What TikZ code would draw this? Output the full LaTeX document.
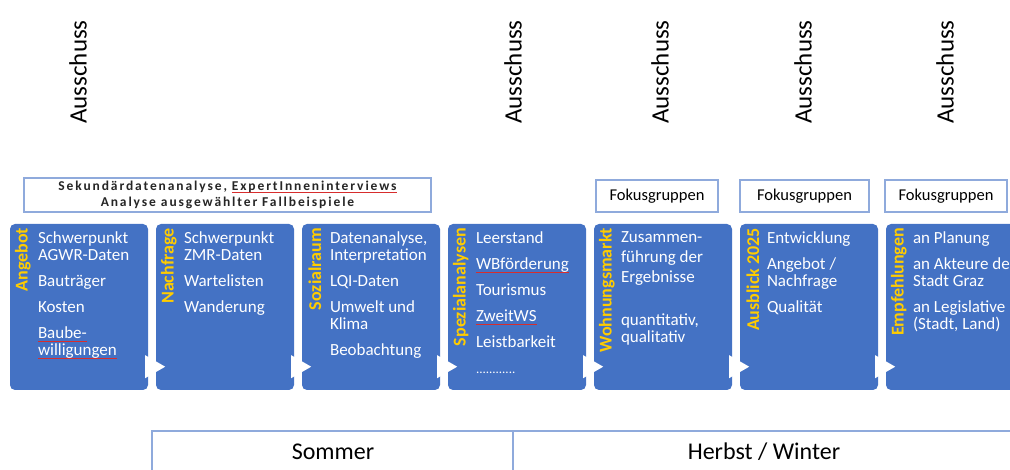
\documentclass[tikz,border=0pt]{standalone}
\usepackage{fontspec}
\setmainfont{Carlito}
\newfontfamily\sperrfont[LetterSpace=14]{Carlito}
\usepackage{tikz}
\usetikzlibrary{positioning}
\definecolor{boxblau}{RGB}{68,114,196}
\definecolor{gelb}{RGB}{255,204,0}
\definecolor{randblau}{RGB}{143,170,220}
\definecolor{fehlerrot}{RGB}{215,45,45}
% rote Unterstreichung (Rechtschreibpruefung)
\newlength\rotbreite
\newcommand\rotlinie[1]{\settowidth\rotbreite{#1}\rlap{\textcolor{fehlerrot}{\rule[-2.5pt]{\rotbreite}{0.8pt}}}#1}

\begin{document}
\begin{tikzpicture}[x=1pt,y=-1pt,node distance=7.6pt,
  phase/.style={fill=boxblau,rounded corners=5pt,minimum width=138pt,minimum height=166pt,inner sep=0pt},
  seite/.style={rotate=90,anchor=east,inner sep=0pt,text=gelb,font=\bfseries\fontsize{18}{18}\selectfont},
  punkte/.style={anchor=north west,align=left,inner sep=0pt,text=white,font=\fontsize{17}{17}\selectfont},
  rahmen/.style={draw=randblau,line width=1.3pt,fill=white,inner sep=0pt},
  ausschuss/.style={rotate=90,inner sep=0pt,font=\fontsize{25}{25}\selectfont}]
  \useasboundingbox (0,0) rectangle (1010,470);

  % Phasen
  \node[phase] (angebot) at (79,307) {};
  \node[phase,right=of angebot] (nachfrage) {};
  \node[phase,right=of nachfrage] (sozialraum) {};
  \node[phase,right=of sozialraum] (spezial) {};
  \node[phase,right=of spezial] (wohnmarkt) {};
  \node[phase,right=of wohnmarkt] (ausblick) {};
  \node[phase,right=of ausblick] (empfehl) {};

  \foreach \b in {angebot,nachfrage,sozialraum,spezial,wohnmarkt,ausblick}
    \fill[white] ([shift={(-3,-35)}]\b.south east) -- ++(20,11.5) -- ++(-20,11.5) -- cycle;

  \node[seite] (angebotL) at ([shift={(13,4)}]angebot.north west) {Angebot};
  \node[seite] (nachfrageL) at ([shift={(13,4)}]nachfrage.north west) {Nachfrage};
  \node[seite] (sozialraumL) at ([shift={(13,4)}]sozialraum.north west) {Sozialraum};
  \node[seite] (spezialL) at ([shift={(13,4)}]spezial.north west) {Spezialanalysen};
  \node[seite] (wohnmarktL) at ([shift={(13,4)}]wohnmarkt.north west) {Wohnungsmarkt};
  \node[seite] (ausblickL) at ([shift={(13,4)}]ausblick.north west) {Ausblick 2025};
  \node[seite] (empfehlL) at ([shift={(13,4)}]empfehl.north west) {Empfehlungen};

  \node[punkte] (angebotT) at ([shift={(28,8)}]angebot.north west)
    {Schwerpunkt\\AGWR-Daten\\[9pt]Bauträger\\[9pt]Kosten\\[9pt]\rotlinie{Baube-}\\\rotlinie{willigungen}};
  \node[punkte] (nachfrageT) at ([shift={(28,8)}]nachfrage.north west)
    {Schwerpunkt\\ZMR-Daten\\[9pt]Wartelisten\\[9pt]Wanderung};
  \node[punkte] (sozialraumT) at ([shift={(28,8)}]sozialraum.north west)
    {Datenanalyse,\\Interpretation\\[9pt]LQI-Daten\\[9pt]Umwelt und\\Klima\\[9pt]Beobachtung};
  \node[punkte] (spezialT) at ([shift={(28,8)}]spezial.north west)
    {Leerstand\\[9pt]\rotlinie{WBförderung}\\[9pt]Tourismus\\[9pt]\rotlinie{ZweitWS}\\[9pt]Leistbarkeit\\[9pt]{\fontsize{13}{13}\selectfont............}};
  \node[punkte] (wohnmarktT) at ([shift={(27,8)}]wohnmarkt.north west)
    {Zusammen-\\[3pt]führung der\\[3pt]Ergebnisse\\[26pt]quantitativ,\\qualitativ};
  \node[punkte] (ausblickT) at ([shift={(27,8)}]ausblick.north west)
    {Entwicklung\\[9pt]Angebot /\\Nachfrage\\[9pt]Qualität};
  \node[punkte] (empfehlT) at ([shift={(27,8)}]empfehl.north west)
    {an Planung\\[9pt]an Akteure der\\Stadt Graz\\[9pt]an Legislative\\(Stadt, Land)};

  % Methoden
  \node[rahmen,minimum width=407pt,minimum height=34pt,align=center,
        font=\sperrfont\bfseries\fontsize{13.5}{16.5}\selectfont,text=black!85] (methoden) at (227.5,195)
    {Sekundärdatenanalyse, \rotlinie{ExpertInneninterviews}\\Analyse ausgewählter Fallbeispiele};
  \node[rahmen,minimum width=122pt,minimum height=32pt,font=\fontsize{16.5}{16.5}\selectfont] (fokus1) at (657,196) {Fokusgruppen};
  \node[rahmen,minimum width=129pt,minimum height=32pt,font=\fontsize{16.5}{16.5}\selectfont] (fokus2) at (804.5,196) {Fokusgruppen};
  \node[rahmen,minimum width=122pt,minimum height=32pt,font=\fontsize{16.5}{16.5}\selectfont] (fokus3) at (946,196) {Fokusgruppen};

  % Ausschuss
  \node[ausschuss] (aus1) at (78,72) {Ausschuss};
  \node[ausschuss] (aus2) at (513,72) {Ausschuss};
  \node[ausschuss] (aus3) at (660,72) {Ausschuss};
  \node[ausschuss] (aus4) at (803,72) {Ausschuss};
  \node[ausschuss] (aus5) at (945,72) {Ausschuss};

  % Zeitraum
  \draw[randblau,line width=1.5pt] (152,470) |- (1010,431);
  \draw[randblau,line width=1.5pt] (513,431) -- (513,470);
  \node[font=\fontsize{24}{24}\selectfont] (sommer) at (333,452) {Sommer};
  \node[font=\fontsize{24}{24}\selectfont] (herbst) at (764,452) {Herbst / Winter};
\end{tikzpicture}
\end{document}
